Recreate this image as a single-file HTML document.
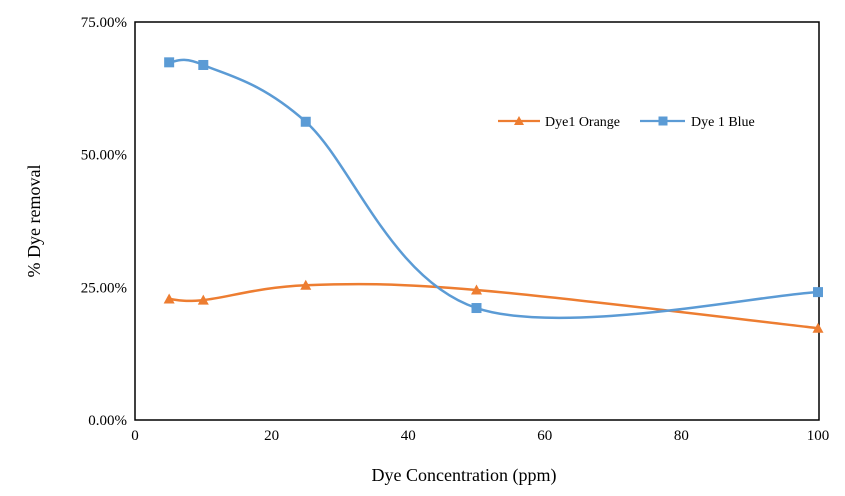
<!DOCTYPE html>
<html><head><meta charset="utf-8"><style>
body{margin:0;background:#fff;}
svg text{font-family:"Liberation Serif",serif;fill:#000;}
</style></head><body>
<svg id="chart" width="845" height="491" viewBox="0 0 845 491" xmlns="http://www.w3.org/2000/svg">
<rect x="135" y="22" width="684" height="398" fill="none" stroke="#000" stroke-width="1.5"/>
<g id="grid"></g>
<g id="axes"></g>
<g id="series"></g>
<text transform="translate(40,221) rotate(-90)" text-anchor="middle" font-size="18">% Dye removal</text>
<text x="464" y="481" text-anchor="middle" font-size="18">Dye Concentration (ppm)</text>
<g>
<g>
<line x1="498" y1="121" x2="540" y2="121" stroke="#ED7D31" stroke-width="2.25"/>
<path d="M519,116 L524,125 L514,125 Z" fill="#ED7D31"/>
<text x="545" y="126" font-size="14">Dye1 Orange</text>
</g>
<g>
<line x1="640" y1="121" x2="685" y2="121" stroke="#5B9BD5" stroke-width="2.25"/>
<rect x="658.5" y="116.5" width="9" height="9" fill="#5B9BD5"/>
<text x="691" y="126" font-size="14">Dye 1 Blue</text>
</g>
</g>
</svg>
<script>
const xValues=[5,10,25,50,100];
const orangeValues=[22.8,22.6,25.4,24.5,17.3];
const blueValues=[67.4,66.9,56.2,21.1,24.1];
const xTicks=[0,20,40,60,80,100];
const yTicks=[0,25,50,75];
const yTickLabels=["0.00%","25.00%","50.00%","75.00%"];
const X0=135,X1=818,Y0=420,Y1=22;
const sx=v=>X0+(v-0)/(100-0)*(X1-X0);
const sy=v=>Y0-(v-0)/(75-0)*(Y0-Y1);
const NS="http://www.w3.org/2000/svg";
const axes=document.getElementById('axes');
function mk(tag,attrs,parent){const e=document.createElementNS(NS,tag);for(const k in attrs)e.setAttribute(k,attrs[k]);parent.appendChild(e);return e;}
xTicks.forEach(t=>{
 const tx=mk('text',{x:sx(t),y:Y0+20,'text-anchor':'middle','font-size':15},axes);
 tx.textContent=t;
 
 
});
yTicks.forEach((t,i)=>{
 const tx=mk('text',{x:X0-8,y:sy(t)+5,'text-anchor':'end','font-size':15},axes);
 tx.textContent=yTickLabels[i];
 
 
});
function smooth(pts){
 let d=`M${pts[0][0]},${pts[0][1]}`;
 for(let i=0;i<pts.length-1;i++){
  const p0=pts[Math.max(0,i-1)],p1=pts[i],p2=pts[i+1],p3=pts[Math.min(pts.length-1,i+2)];
  const c1=[p1[0]+(p2[0]-p0[0])/6,p1[1]+(p2[1]-p0[1])/6];
  const c2=[p2[0]-(p3[0]-p1[0])/6,p2[1]-(p3[1]-p1[1])/6];
  d+=` C${c1[0]},${c1[1]} ${c2[0]},${c2[1]} ${p2[0]},${p2[1]}`;
 }
 return d;
}
const sg=document.getElementById('series');
function drawSeries(vals,color,name,marker){
 const pts=xValues.map((x,i)=>[sx(x),sy(vals[i])]);
 const p=mk('path',{d:smooth(pts),fill:'none',stroke:color,'stroke-width':2.5},sg);
 
 
 pts.forEach(([x,y])=>{
  let m;
  if(marker==='tri') m=mk('path',{d:`M${x},${y-5.5} L${x+5.5},${y+4.5} L${x-5.5},${y+4.5} Z`,fill:color},sg);
  else m=mk('rect',{x:x-5,y:y-5,width:10,height:10,fill:color},sg);
  
  
 });
}
drawSeries(orangeValues,'#ED7D31','orange-series','tri');
drawSeries(blueValues,'#5B9BD5','blue-series','sq');
</script>
</body></html>
